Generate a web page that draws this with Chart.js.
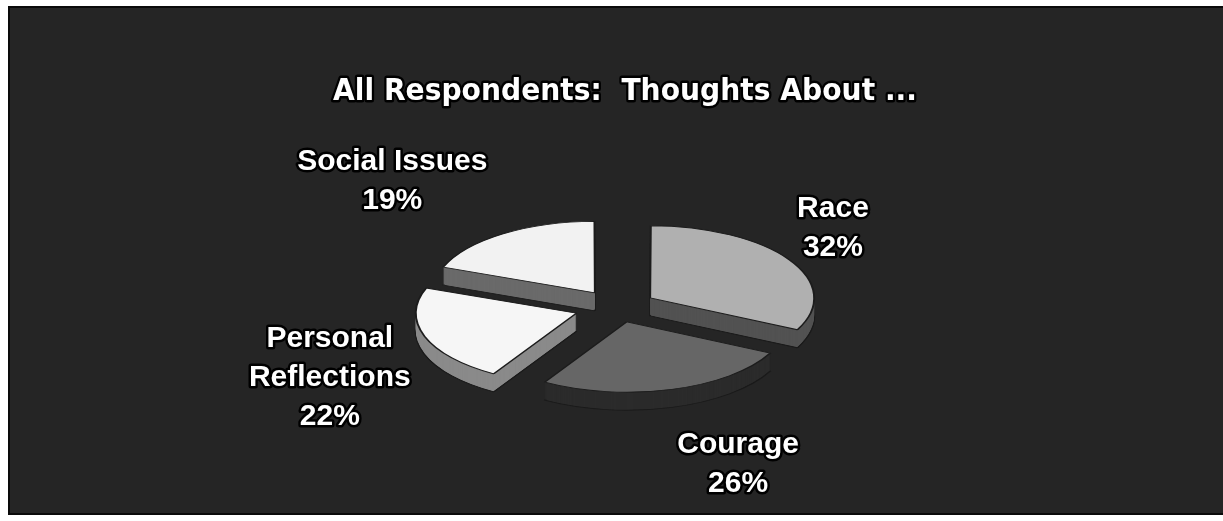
<!DOCTYPE html>
<html><head><meta charset="utf-8">
<script src="https://cdn.jsdelivr.net/npm/chart.js@4.4.1/dist/chart.umd.min.js"></script>
<style>html,body{margin:0;padding:0;background:#fff;overflow:hidden}#wrap{width:1223px;height:521px;position:relative}</style>
</head><body><div id="wrap"><canvas id="c" width="1223" height="521"></canvas></div>
<script>
const TITLE = 'All Respondents:  Thoughts About ...';
const categories = ['Race', 'Courage', 'Personal Reflections', 'Social Issues'];
const labelLines = [['Race'], ['Courage'], ['Personal', 'Reflections'], ['Social Issues']];
const values = [32, 26, 22, 19];

// styles
const topColors = ['#b0b0b0', '#666666', '#f6f6f6', '#f2f2f2'];
const sideColors = ['#525252', '#2b2b2b', '#8a8a8a', '#6a6a6a'];
const explode = [156, 140, 172, 156];
const labelNudge = [[80, -53], [76, 78], [-136, 17], [-134, -79]];
const TILT = 0.44, DEPTH = 18, CENTER_Y = 307, RADIUS = 160;

function tf(ctx, chart, k) {
  const a = chart.chartArea;
  const cy0 = (a.top + a.bottom) / 2;
  ctx.translate(0, CENTER_Y + k);
  ctx.scale(1, TILT);
  ctx.translate(0, -cy0);
}

const frame = {
  id: 'frame',
  beforeDraw(chart) {
    const ctx = chart.ctx;
    ctx.save();
    ctx.fillStyle = '#ffffff';
    ctx.fillRect(0, 0, chart.width, chart.height);
    ctx.fillStyle = '#252525';
    ctx.fillRect(8, 6, chart.width - 8, 509);
    ctx.strokeStyle = '#0a0a0a';
    ctx.lineWidth = 2;
    ctx.strokeRect(9, 7, chart.width - 8, 507);
    ctx.restore();
  }
};

const pie3d = {
  id: 'pie3d',
  beforeDatasetsDraw(chart) {
    const ctx = chart.ctx, meta = chart.getDatasetMeta(0);
    for (let k = DEPTH; k >= 1; k--) {
      ctx.save();
      tf(ctx, chart, k);
      meta.data.forEach((el, i) => {
        const p = Object.create(el);
        const last = (k === DEPTH);
        p.options = Object.assign({}, el.options, {
          backgroundColor: sideColors[i],
          borderColor: last ? '#1a1a1a' : sideColors[i],
          borderWidth: last ? 2 : 0
        });
        p.draw(ctx);
      });
      ctx.restore();
    }
    ctx.save();
    tf(ctx, chart, 0);
  },
  afterDatasetsDraw(chart) {
    chart.ctx.restore();
  },
  afterDraw(chart) {
    const ctx = chart.ctx, meta = chart.getDatasetMeta(0);
    ctx.save();
    ctx.lineJoin = 'round';
    // title
    ctx.font = 'bold 30px "DejaVu Sans"';
    const w = ctx.measureText(TITLE).width;
    ctx.save();
    ctx.translate(625, 100);
    ctx.scale(584 / w, 1);
    ctx.textAlign = 'center';
    ctx.textBaseline = 'alphabetic';
    ctx.strokeStyle = '#000';
    ctx.lineWidth = 5;
    ctx.strokeText(TITLE, 0, 0);
    ctx.fillStyle = '#fff';
    ctx.fillText(TITLE, 0, 0);
    ctx.restore();
    // labels
    ctx.font = 'bold 30px "Liberation Sans", Arial, sans-serif';
    ctx.textAlign = 'center';
    ctx.textBaseline = 'alphabetic';
    meta.data.forEach((el, i) => {
      const mid = (el.startAngle + el.endAngle) / 2;
      const rx = el.x + Math.cos(mid) * RADIUS;
      const ry = CENTER_Y + Math.sin(mid) * RADIUS * TILT;
      const x = rx + labelNudge[i][0];
      const y = ry + labelNudge[i][1];
      const lines = labelLines[i].concat([values[i] + '%']);
      lines.forEach((t, j) => {
        const yy = y + j * 39;
        ctx.strokeStyle = '#000';
        ctx.lineWidth = 5;
        ctx.strokeText(t, x, yy);
        ctx.fillStyle = '#fff';
        ctx.fillText(t, x, yy);
      });
    });
    ctx.restore();
  }
};

new Chart(document.getElementById('c'), {
  type: 'pie',
  data: {
    labels: categories,
    datasets: [{
      data: values,
      backgroundColor: topColors,
      borderColor: '#1c1c1c',
      borderWidth: 2,
      offset: explode,
      clip: false
    }]
  },
  options: {
    responsive: false,
    animation: false,
    events: [],
    radius: RADIUS,
    layout: { padding: { left: 11, right: 0, top: 0, bottom: 0 } },
    plugins: { legend: { display: false }, tooltip: { enabled: false }, title: { display: false } }
  },
  plugins: [frame, pie3d]
});
</script>
</body></html>
